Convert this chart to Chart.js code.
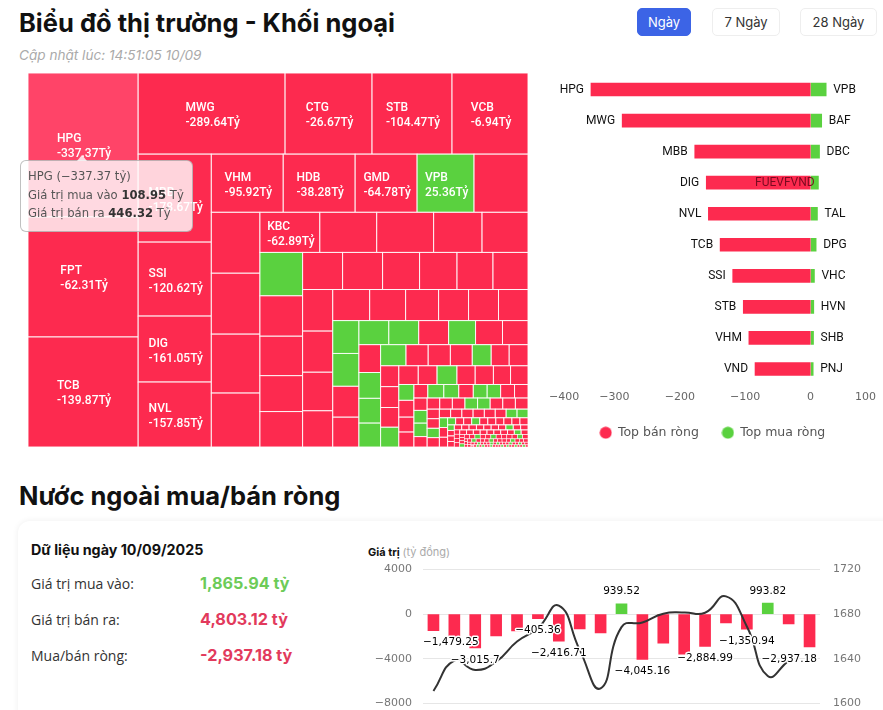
<!DOCTYPE html>
<html lang="vi">
<head>
<meta charset="utf-8">
<title>Khối ngoại</title>
<script src="https://cdn.jsdelivr.net/npm/chart.js@4"></script>
<style>
  html, body { margin: 0; width: 883px; height: 710px; overflow: hidden; background: #fff; }
  body { position: relative; font-family: Inter, "Noto Sans", sans-serif; color: #111; }
  body > * { position: absolute; }
  canvas { display: block; }
  h1, h2 { margin: 0; font-size: 25.5px; font-weight: 700; white-space: nowrap; }
  .btn { top: 8px; height: 26px; line-height: 26px; text-align: center; font-size: 13px; border: 1px solid #eee; border-radius: 5px; color: #333; }
  .btn.on { background: #3c64e6; border-color: #3c64e6; color: #fff; }
  .card { left: 18px; top: 521px; width: 900px; height: 300px; border-radius: 12px; box-shadow: 0 0 6px rgba(0,0,0,.07); }
  .row { left: 31px; font-size: 14px; color: #333; font-family: "Open Sans", sans-serif; }
  .val { left: 200px; font-size: 16.2px; font-weight: 700; }
  .tip { left: 20px; top: 160px; width: 164px; height: 60px; padding: 6px 0 4px 7px; background: rgba(255,255,255,.8); border: 1px solid rgba(140,140,140,.55); border-radius: 6px; font: 11.6px/18.5px "DejaVu Sans", sans-serif; color: #555; white-space: nowrap; }
  .tip b { color: #333; }
  .tip i { position: absolute; left: 56px; top: -6px; width: 0; height: 0; border: 5px solid transparent; border-top: 0; border-bottom: 6px solid rgba(255,255,255,.8); }
</style>
</head>
<body>

<h1 style="left:19px;top:7px">Biểu đồ thị trường - Khối ngoại</h1>
<div style="left:19px;top:47px;font-size:13.6px;font-style:italic;color:#aaa">Cập nhật lúc: 14:51:05 10/09</div>
<div class="btn on" style="left:637px;width:52px">Ngày</div>
<div class="btn" style="left:712px;width:66px">7 Ngày</div>
<div class="btn" style="left:800px;width:75px">28 Ngày</div>

<canvas id="mapChart" style="left:28px;top:73px" width="500" height="374"></canvas>
<div class="tip"><i></i>HPG (−337.37 tỷ)<br>Giá trị mua vào <b>108.95</b> Tỷ<br>Giá trị bán ra <b>446.32</b> Tỷ</div>

<canvas id="topChart" style="left:540px;top:70px" width="344" height="385"></canvas>

<h2 style="left:19px;top:480px">Nước ngoài mua/bán ròng</h2>
<div class="card"></div>
<div style="left:31px;top:541px;font-size:14.3px;font-weight:700">Dữ liệu ngày 10/09/2025</div>
<div class="row" style="top:574px">Giá trị mua vào:</div>
<div class="val" style="top:573px;color:#6ccb58">1,865.94 tỷ</div>
<div class="row" style="top:610px">Giá trị bán ra:</div>
<div class="val" style="top:609px;color:#e23a5c">4,803.12 tỷ</div>
<div class="row" style="top:646px">Mua/bán ròng:</div>
<div class="val" style="top:645px;color:#e23a5c">-2,937.18 tỷ</div>
<div style="left:368px;top:545px;font-size:11px;font-weight:700">Giá trị <span style="font-weight:400;color:#aaa">(tỷ đồng)</span></div>

<canvas id="flowChart" style="left:360px;top:550px" width="523" height="173"></canvas>

<script>
// ---------- treemap: giá trị giao dịch (tỷ), đọc từ diện tích ô ----------

const cellGross = [
  555.27, 462.7, 424.2,
  417.4, 247.0, 227.2, 215.8,
  225.2, 189.4, 168.9, 166.3,
  146.4, 146.4, 126.1, 115.9, 109.8,
  103.7, 103.7, 100.3, 91.8,
  84.1, 79.9, 79.9, 68.0, 64.5,
  64.8, 60.3, 58.9, 53.6, 52.9,
  51.9, 51.9, 48.0, 48.6, 46.7, 45.4,
  43.9, 43.4, 40.7, 38.2,
  40.2, 39.1, 35.9, 32.6, 32.6, 32.1,
  30.1, 30.1, 28.3, 27.3,
  25.2, 25.2, 25.2, 22.7, 22.7, 21.5,
  21.1, 19.6, 18.8, 18.1,
  18.8, 16.4, 16.4, 16.2, 14.0, 13.3, 13.9,
  13.3, 13.3, 12.6, 12.6,
  12.7, 12.3, 13.0, 11.9, 11.9, 11.2, 11.4,
  8.4, 8.9, 7.9, 7.9,
  6.6, 7.6, 7.1, 6.9, 6.6, 6.4, 6.6, 6.4,
  5.7, 5.9, 6.2, 4.8,
  4.9, 4.9, 4.9, 4.9, 4.9, 4.9, 4.9, 4.9,
  4.1, 4.1, 4.0, 4.0,
  3.4, 3.4, 3.4, 3.4, 3.3, 3.3, 3.3, 3.3,
  2.8, 2.8, 2.8,
  2.0, 2.0, 2.0, 2.0, 2.0, 2.0, 2.0, 2.0, 2.0, 2.0,
  1.3, 1.3, 1.3, 1.3,
  1.3, 1.3, 1.3, 1.3, 1.3, 1.3, 1.3, 1.3, 1.3, 1.3,
  0.8, 0.8, 0.8, 0.8,
  1.1, 1.1, 1.1, 1.1, 1.1, 1.1, 1.1, 1.1, 1.1, 1.1,
  0.5, 0.5, 0.5, 0.5,
  0.8, 0.8, 0.8, 0.8, 0.8, 0.8, 0.8, 0.8, 0.8, 0.8, 0.8, 0.8,
  0.3, 0.3, 0.3,
  0.5, 0.5, 0.5, 0.5, 0.5, 0.5, 0.5, 0.5, 0.5, 0.5, 0.5, 0.5, 0.5, 0.5,
  0.3, 0.3,
  0.3, 0.3, 0.3, 0.3, 0.3, 0.3, 0.3, 0.3, 0.3, 0.3, 0.3, 0.3, 0.3, 0.3, 0.3, 0.3, 0.3, 0.3,
  0.1, 0.1,
  0.2, 0.2, 0.2, 0.2, 0.2, 0.2, 0.2, 0.2, 0.2, 0.2, 0.2, 0.2, 0.2, 0.2, 0.2, 0.2, 0.2, 0.2, 0.2, 0.2
];

// mỗi chuỗi là một dải ô, s = bán ròng, b = mua ròng (cột, hàng, cột, hàng...)
const cellStrips = [
  'sss', 'ssss', 'ssss', 'sssbs', 'ssss', 'sssss', 'bssss', 'ssssss', 'ssss',
  'ssssss', 'bbss', 'bbsbss', 'sbbb', 'bsssbss', 'sssb', 'ssbssss', 'bsss',
  'sbbsbbss', 'sbbs', 'sssbbsss', 'ssbs', 'ssssssbb', 'bss', 'bssbssssss',
  'bsss', 'sssssssbss', 'ssss', 'ssssssssbs', 'sssb', 'ssbssbssssbs', 'sss',
  'sbsssbssssbsss', 'ss', 'ssbsssbsbsssbssbss', 'ss', 'sbsbssbsssbsbssbssbs'
];

const cellTickers = ['HPG', 'FPT', 'TCB', 'MWG', 'CTG', 'STB', 'VCB', 'MBB', 'SSI', 'DIG', 'NVL',
  'VHM', 'HDB', 'GMD', 'VPB', '', '', '', '', '', 'KBC'];
const cellNet = ['-337.37', '-62.31', '-139.87', '-289.64', '-26.67', '-104.47', '-6.94', '-178.67', '-120.62',
  '-161.05', '-157.85', '-95.92', '-38.28', '-64.78', '25.36', '', '', '', '', '', '-62.89'];

// ---------- top mua/bán ròng ----------

const sellTickers = ['HPG', 'MWG', 'MBB', 'DIG', 'NVL', 'TCB', 'SSI', 'STB', 'VHM', 'VND'];
const sellValues = [-337.37, -289.64, -178.67, -161.05, -157.85, -139.87, -120.62, -104.47, -95.92, -86.5];
const buyTickers = ['VPB', 'BAF', 'DBC', 'FUEVFVND', 'TAL', 'DPG', 'VHC', 'HVN', 'SHB', 'PNJ'];
const buyValues = [25.36, 18.5, 15.2, 13.5, 12.0, 10.0, 7.4, 6.4, 6.0, 5.5];

// ---------- mua/bán ròng theo phiên ----------

const sessions = ['1', '2', '3', '4', '5', '6', '7', '8', '9', '10', '11', '12', '13', '14', '15', '16', '17', '18', '19'];
const netValues = [-1479.25, -2200, -3015.7, -1955, -1500, -405.36, -2416.71, -1320, -1680, 939.52,
  -4045.16, -2590, -3580, -2884.99, -780, -1350.94, 993.82, -870, -2937.18];
const netLabels = ['−1,479.25', '', '−3,015.7', '', '', '−405.36', '−2,416.71', '', '', '939.52',
  '−4,045.16', '', '', '−2,884.99', '', '−1,350.94', '993.82', '', '−2,937.18'];
const indexValues = [1611.1, 1638.4, 1630, 1637.5, 1655.5, 1667.5, 1687.6, 1648, 1613.5, 1668.4,
  1672.6, 1680.4, 1681.6, 1681.3, 1696, 1669, 1624.6, 1638.4, null];

const RED = '#fd2a4f';
const GREEN = '#5ad13f';
const TEXT_FONT = '"Roboto", sans-serif';
const AXIS_FONT = '"DejaVu Sans", sans-serif';

Chart.defaults.animation = false;
Chart.defaults.responsive = false;
Chart.defaults.devicePixelRatio = 1;

const minusTick = (v) => String(v).replace('-', '−');

// ---------- treemap ----------

function layoutCells(values, strips) {
  const cells = [];
  let x0 = 0, y0 = 0, x1 = 1, y1 = 1;
  let rest = values.reduce((s, v) => s + v, 0);
  let idx = 0;
  strips.forEach((sides, n) => {
    const vals = values.slice(idx, idx + sides.length);
    const sum = vals.reduce((s, v) => s + v, 0);
    const isColumn = n % 2 === 0;
    const thick = (isColumn ? x1 - x0 : y1 - y0) * sum / rest;
    let pos = isColumn ? y0 : x0;
    const len = isColumn ? y1 - y0 : x1 - x0;
    vals.forEach((v, i) => {
      const step = len * v / sum;
      cells.push(isColumn
        ? { x0: x0, x1: x0 + thick, y0: pos, y1: pos + step, side: sides[i], i: idx + i }
        : { x0: pos, x1: pos + step, y0: y0, y1: y0 + thick, side: sides[i], i: idx + i });
      pos += step;
    });
    if (isColumn) x0 += thick; else y0 += thick;
    rest -= sum;
    idx += sides.length;
  });
  return cells;
}

const cells = layoutCells(cellGross, cellStrips);

const cellPlugin = {
  id: 'cellPlugin',
  afterDatasetsDraw(chart) {
    const { ctx, scales: { x, y } } = chart;
    ctx.save();
    cells.forEach((c) => {
      const left = x.getPixelForValue(c.x0), right = x.getPixelForValue(c.x1);
      const top = y.getPixelForValue(c.y0), bottom = y.getPixelForValue(c.y1);
      ctx.fillStyle = c.side === 'b' ? GREEN : (c.i === 0 ? '#ff4468' : RED);
      ctx.fillRect(left, top, right - left, bottom - top);
      ctx.strokeStyle = 'rgba(255,255,255,.9)';
      ctx.lineWidth = right - left < 6 ? 0.6 : 1;
      ctx.strokeRect(left, top, right - left, bottom - top);
      const ticker = cellTickers[c.i];
      if (!ticker) return;
      const net = cellNet[c.i] + 'Tỷ';
      ctx.font = '500 12px ' + TEXT_FONT;
      ctx.fillStyle = '#fff';
      ctx.textAlign = 'left';
      ctx.textBaseline = 'middle';
      const w = ctx.measureText(net).width;
      const cx = (left + right) / 2 - w / 2 + 1, cy = (top + bottom) / 2 + 2;
      ctx.fillText(ticker, cx, cy - 7.5);
      ctx.fillText(net, cx, cy + 7.5);
    });
    ctx.restore();
  }
};

new Chart(document.getElementById('mapChart'), {
  type: 'scatter',
  data: {
    datasets: [{ data: cells.map((c) => ({ x: (c.x0 + c.x1) / 2, y: (c.y0 + c.y1) / 2 })), pointRadius: 0 }]
  },
  options: {
    events: [],
    scales: {
      x: { display: false, min: 0, max: 1 },
      y: { display: false, min: 0, max: 1, reverse: true }
    },
    plugins: { legend: { display: false }, tooltip: { enabled: false } }
  },
  plugins: [cellPlugin]
});

// ---------- top mua/bán ròng ----------

const tickerPlugin = {
  id: 'tickerPlugin',
  afterDatasetsDraw(chart) {
    const { ctx, chartArea } = chart;
    const zero = chart.scales.x.getPixelForValue(0);
    ctx.save();
    ctx.font = '12px ' + TEXT_FONT;
    ctx.textBaseline = 'middle';
    chart.getDatasetMeta(0).data.forEach((bar, i) => {
      ctx.fillStyle = '#111';
      ctx.textAlign = 'right';
      ctx.fillText(sellTickers[i], bar.x - 6, bar.y);
    });
    chart.getDatasetMeta(1).data.forEach((bar, i) => {
      const text = buyTickers[i];
      if (bar.x + 6 + ctx.measureText(text).width > chartArea.right) {
        // nhãn dài không vừa bên phải thì nằm đè lên thanh
        ctx.fillStyle = '#7a0a20';
        ctx.textAlign = 'right';
        ctx.fillText(text, zero + 4, bar.y);
      } else {
        ctx.fillStyle = '#111';
        ctx.textAlign = 'left';
        ctx.fillText(text, bar.x + 6, bar.y);
      }
    });
    ctx.restore();
  }
};

// chấm tròn của chú giải
function legendDot(color) {
  const dot = document.createElement('canvas');
  dot.width = 13;
  dot.height = 13;
  const g = dot.getContext('2d');
  g.fillStyle = color;
  g.arc(6.5, 6.5, 6, 0, Math.PI * 2);
  g.fill();
  return dot;
}
const legendDots = [legendDot(RED), legendDot(GREEN)];

new Chart(document.getElementById('topChart'), {
  type: 'bar',
  data: {
    labels: sellTickers,
    datasets: [
      { label: 'Top bán ròng', data: sellValues, backgroundColor: RED, borderColor: '#fff', borderWidth: 1, barThickness: 15, stack: 'net' },
      { label: 'Top mua ròng', data: buyValues, backgroundColor: GREEN, borderColor: '#fff', borderWidth: 1, barThickness: 15, stack: 'net' }
    ]
  },
  options: {
    indexAxis: 'y',
    events: [],
    layout: { padding: { left: 9, right: 8, top: 4, bottom: 6 } },
    scales: {
      x: {
        stacked: true,
        min: -400,
        max: 100,
        afterFit: (scale) => { scale.height = 19; },
        grid: { display: false, drawTicks: false },
        border: { display: false },
        ticks: { stepSize: 100, align: 'inner', padding: 6, color: '#666', font: { family: AXIS_FONT, size: 11 }, callback: minusTick, maxRotation: 0 }
      },
      y: { stacked: true, display: false }
    },
    plugins: {
      tooltip: { enabled: false },
      legend: {
        position: 'bottom',
        labels: {
          usePointStyle: true,
          pointStyle: 'circle',
          boxWidth: 12,
          boxHeight: 12,
          padding: 23,
          color: '#555',
          font: { family: AXIS_FONT, size: 12.5 },
          generateLabels(chart) {
            const items = Chart.defaults.plugins.legend.labels.generateLabels(chart);
            items.forEach((item, i) => { item.pointStyle = legendDots[i]; });
            return items;
          }
        }
      }
    }
  },
  plugins: [tickerPlugin]
});

// ---------- mua/bán ròng theo phiên ----------

const flowLabelPlugin = {
  id: 'flowLabelPlugin',
  afterDatasetsDraw(chart) {
    const { ctx, chartArea } = chart;
    ctx.save();
    ctx.font = '10.5px ' + AXIS_FONT;
    ctx.textAlign = 'center';
    ctx.textBaseline = 'middle';
    ctx.lineJoin = 'round';
    chart.getDatasetMeta(1).data.forEach((bar, i) => {
      const text = netLabels[i];
      if (!text) return;
      const half = ctx.measureText(text).width / 2;
      const x = Math.min(Math.max(bar.x, chartArea.left + half), chartArea.right - 3 - half);
      const y = netValues[i] < 0 ? bar.y + 12 : bar.y - 12;
      ctx.strokeStyle = '#fff';
      ctx.lineWidth = 3;
      ctx.strokeText(text, x, y);
      ctx.fillStyle = '#000';
      ctx.fillText(text, x, y);
    });
    ctx.restore();
  }
};

new Chart(document.getElementById('flowChart'), {
  data: {
    labels: sessions,
    datasets: [
      { type: 'line', label: 'VN-Index', data: indexValues, yAxisID: 'right', borderColor: '#333', borderWidth: 2, pointRadius: 0, tension: 0.5, order: 0 },
      {
        type: 'bar',
        label: 'Mua/bán ròng',
        data: netValues,
        yAxisID: 'left',
        backgroundColor: netValues.map((v) => (v < 0 ? RED : GREEN)),
        barThickness: 11,
        order: 1
      }
    ]
  },
  options: {
    events: [],
    layout: { padding: { top: 12, bottom: 8 } },
    scales: {
      x: { display: false },
      left: {
        position: 'left',
        min: -8000,
        max: 4000,
        afterFit: (scale) => { scale.width = 63; },
        border: { display: false },
        grid: { color: '#e6e6e6', drawTicks: false },
        ticks: { stepSize: 4000, padding: 11, color: '#777', font: { family: AXIS_FONT, size: 11 }, callback: minusTick }
      },
      right: {
        position: 'right',
        min: 1600,
        max: 1720,
        afterFit: (scale) => { scale.width = 63; },
        border: { display: false },
        grid: { display: false, drawTicks: false },
        ticks: { stepSize: 40, padding: 13, color: '#777', font: { family: AXIS_FONT, size: 11 }, callback: minusTick }
      }
    },
    plugins: { legend: { display: false }, tooltip: { enabled: false } }
  },
  plugins: [flowLabelPlugin]
});
</script>
</body>
</html>
